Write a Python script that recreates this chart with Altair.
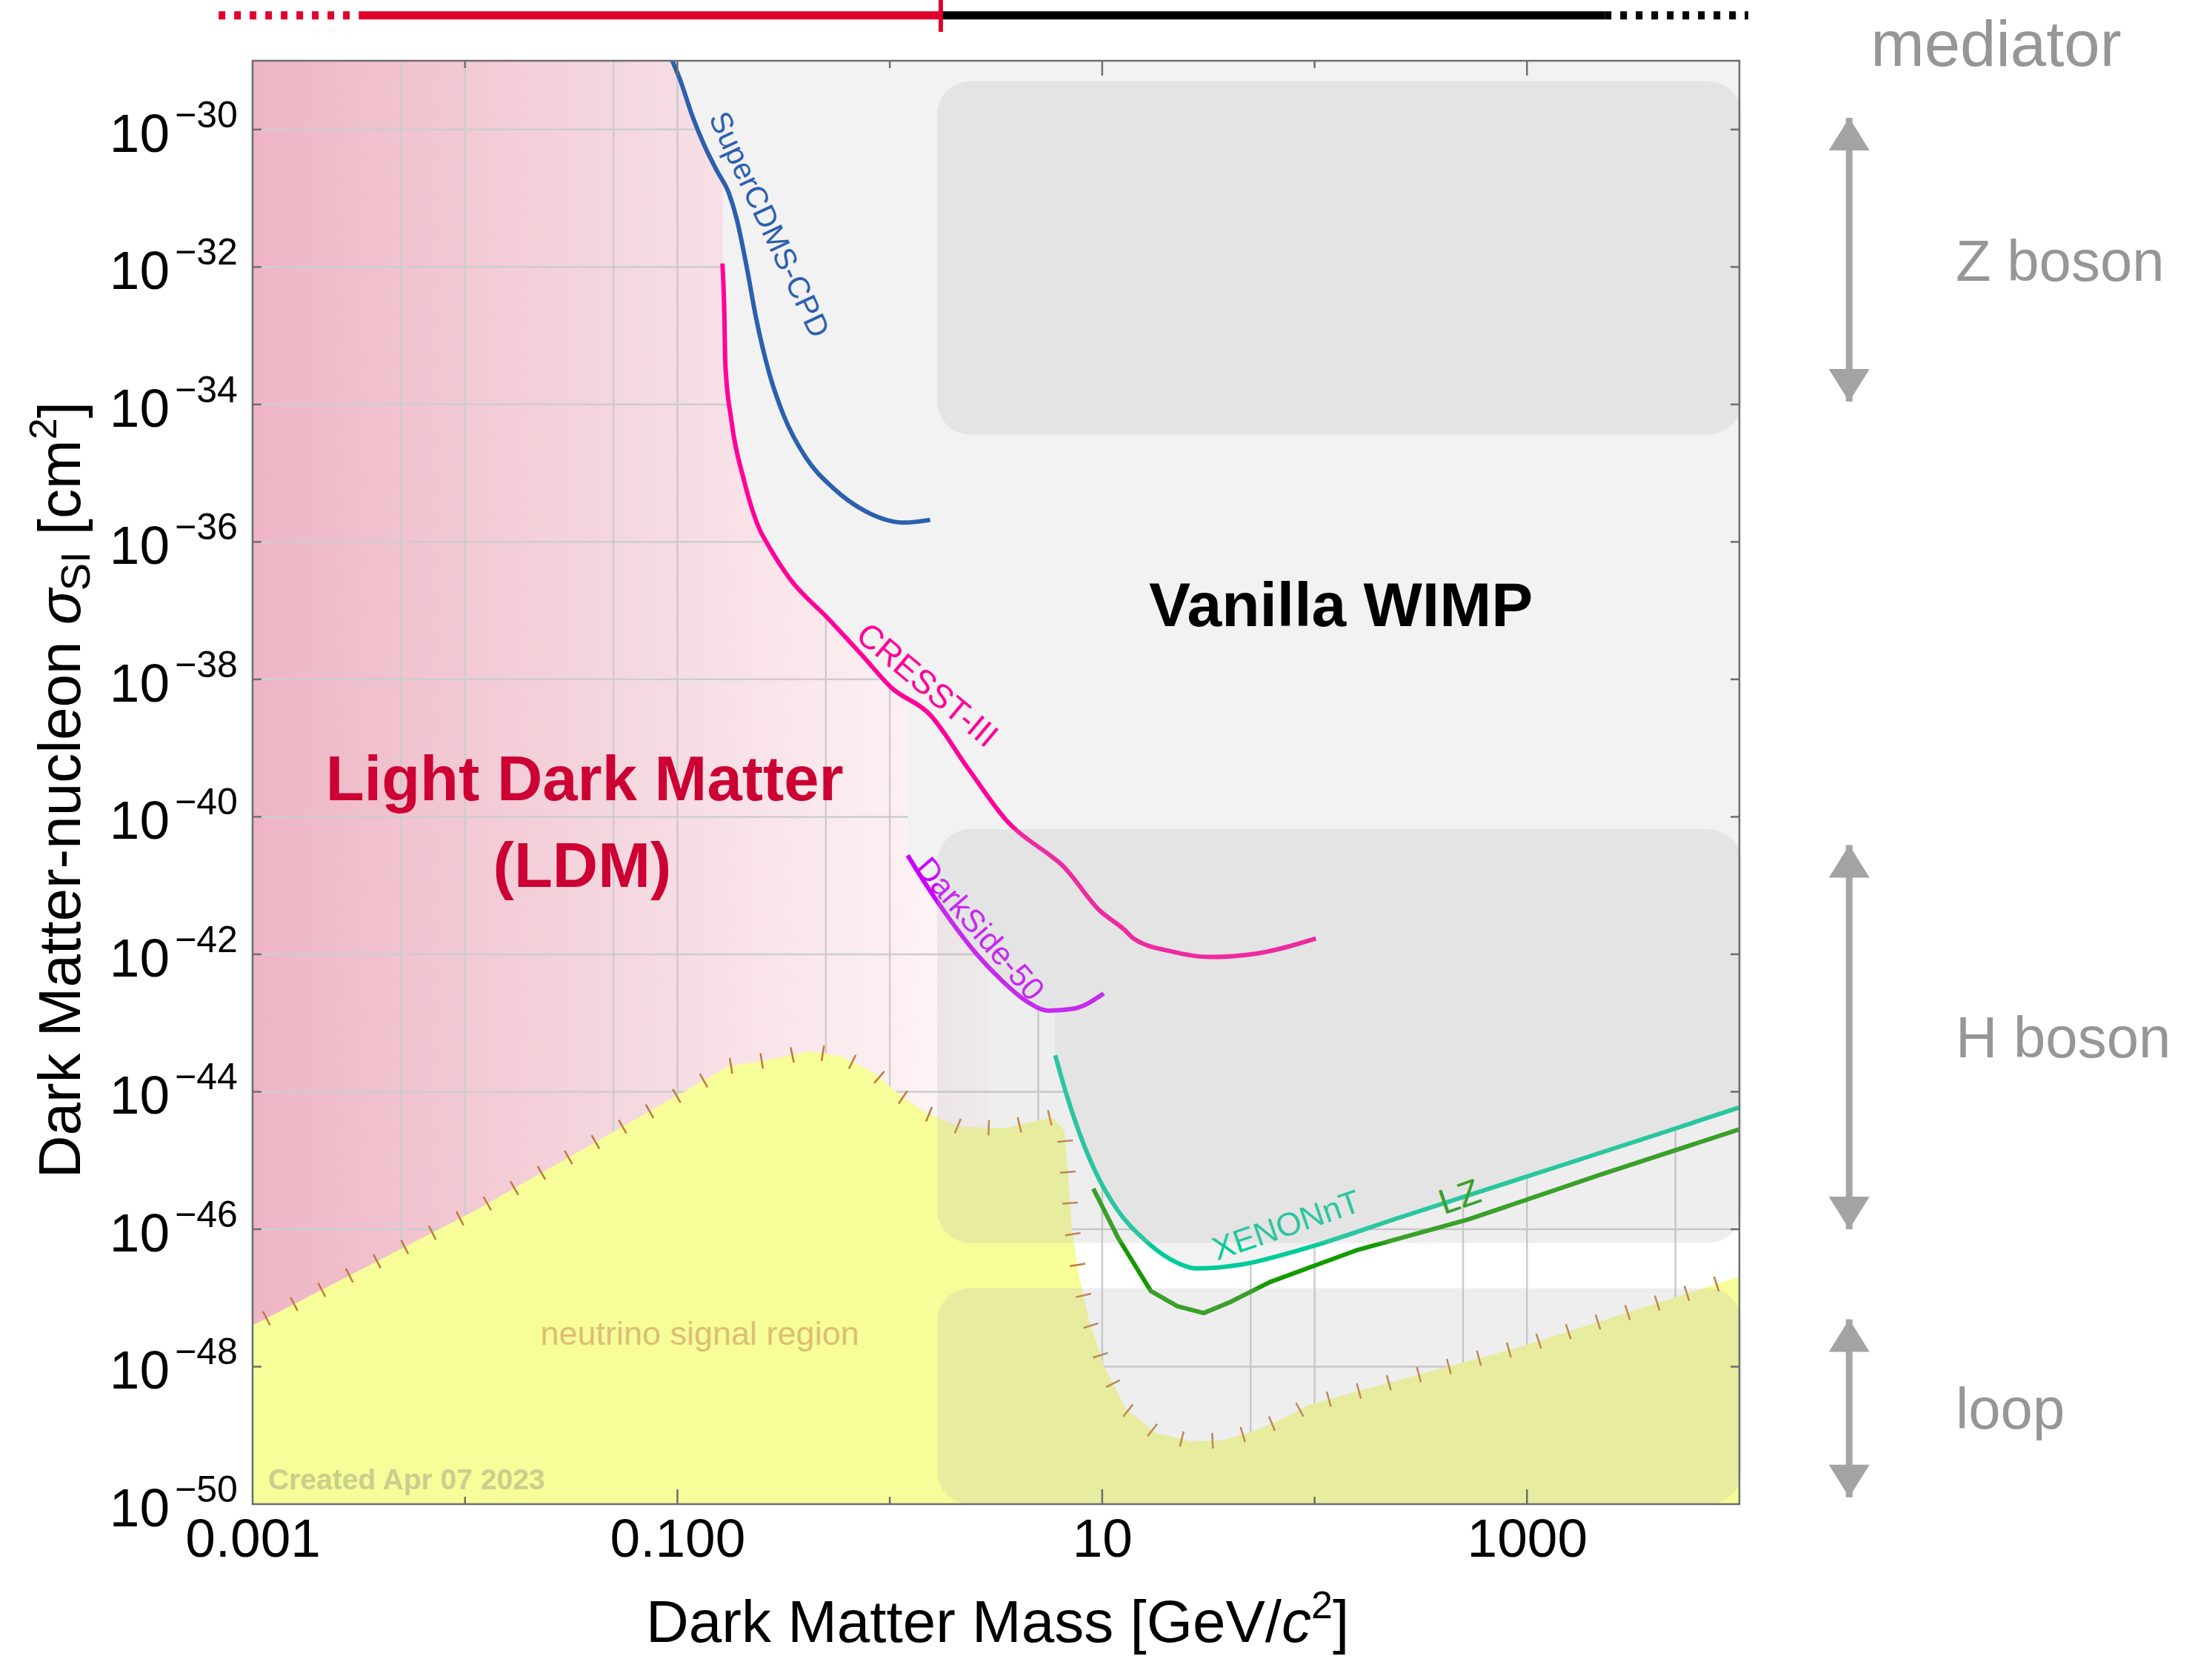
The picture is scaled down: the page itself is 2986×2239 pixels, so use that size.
import numpy as np
import pandas as pd
import altair as alt

FONT = "Liberation Sans"

# ---- frame, in log10 units ----
X_MIN, X_MAX = -3.0, 4.0        # dark matter mass [GeV/c^2]
Y_MIN, Y_MAX = -50.0, -29.0     # SI cross-section [cm^2]
PLOT_W, PLOT_H = 2007, 1948

# ---- experimental upper limits: log10(mass/GeV), log10(sigma_SI/cm^2) ----
supercdms_lx = [-1.024, -0.988, -0.930, -0.872, -0.814, -0.756, -0.721, -0.675, -0.629,
                -0.570, -0.501, -0.396, -0.269, -0.117, 0.068, 0.190]
supercdms_ly = [-29.00, -29.27, -29.80, -30.24, -30.60, -30.94, -31.30, -31.98, -32.75,
                -33.52, -34.15, -34.77, -35.21, -35.55, -35.72, -35.68]

cresst_lx = [-0.788, -0.780, -0.774, -0.745, -0.686, -0.617, -0.572, -0.472, -0.292, -0.133,
             0.007, 0.188, 0.367, 0.557, 0.767, 0.807, 0.987, 1.107, 1.147, 1.327, 1.507,
             1.727, 2.006]
cresst_ly = [-31.95, -32.55, -33.43, -34.25, -35.11, -35.79, -36.05, -36.53, -37.11, -37.64,
             -38.12, -38.51, -39.29, -40.08, -40.59, -40.69, -41.36, -41.65, -41.77, -41.96,
             -42.04, -41.99, -41.77]

darkside_lx = [0.084, 0.167, 0.287, 0.407, 0.527, 0.647, 0.747, 0.867, 1.007]
darkside_ly = [-40.56, -40.97, -41.51, -41.99, -42.38, -42.69, -42.82, -42.79, -42.57]

xenonnt_lx = [0.779, 0.826, 0.888, 0.966, 1.074, 1.198, 1.323, 1.448, 1.665, 1.944, 2.411,
              3.033, 3.654, 3.997]
xenonnt_ly = [-43.47, -43.98, -44.56, -45.15, -45.73, -46.15, -46.44, -46.57, -46.51, -46.29,
              -45.82, -45.20, -44.58, -44.23]

lz_lx = [0.958, 1.074, 1.229, 1.354, 1.478, 1.603, 1.789, 2.194, 2.722, 3.343, 3.997]
lz_ly = [-45.41, -46.12, -46.90, -47.12, -47.22, -47.06, -46.77, -46.31, -45.86, -45.21, -44.55]

# ---- neutrino fog upper edge ----
nu_lx = [-3.0, -1.959, -0.759, -0.543, -0.374, -0.232, -0.076, 0.048, 0.172, 0.328, 0.545,
         0.765, 0.822, 0.834, 0.857, 0.892, 0.938, 1.008, 1.113, 1.252, 1.423, 1.572, 1.712,
         1.836, 1.976, 2.971, 3.95, 4.0]
nu_ly = [-47.40, -45.74, -43.63, -43.52, -43.41, -43.48, -43.72, -44.05, -44.31, -44.51, -44.53,
         -44.37, -44.57, -45.00, -45.97, -46.69, -47.32, -47.99, -48.62, -48.96, -49.09, -49.07,
         -48.94, -48.78, -48.55, -47.71, -46.74, -46.69]

# ---- mediator bands (log10 mass, log10 sigma) ----
band_names = ["Z boson", "H boson", "loop"]
band_lx = [(0.223, 4.01), (0.223, 4.01), (0.223, 4.01)]
band_ly = [(-34.44, -29.30), (-46.20, -40.18), (-50.0, -46.86)]
arrow_lx = 4.517
arrow_ly = [(-29.83, -33.96), (-40.41, -46.00), (-47.31, -49.90)]
band_label_ly = [-32.20, -43.50, -48.90]

# ---- mediator mass bar along the top ----
bar_ly = -28.34
bar_red_dot = (-3.160, -2.499)
bar_red = (-2.499, 0.240)
bar_black = (0.240, 3.366)
bar_black_dot = (3.366, 4.042)

curve_names = ["SuperCDMS-CPD", "CRESST-III", "DarkSide-50", "XENONnT", "LZ"]
curve_colors = ["#2C60AF", "#FF0099", "#CC00FF", "#00CC99", "#159A00"]

# ---------------------------------------------------------------------------
xscale = alt.Scale(type="log", domain=[10.0 ** X_MIN, 10.0 ** X_MAX], nice=False)
yscale = alt.Scale(type="log", domain=[10.0 ** Y_MIN, 10.0 ** Y_MAX], nice=False)
x_axis = alt.Axis(
    values=[0.001, 0.1, 10, 1000],
    labelExpr="datum.value < 0.01 ? '0.001' : datum.value < 1 ? '0.100' : datum.value < 100 ? '10' : '1000'",
    domain=False, ticks=False, grid=False, tickSize=0, title=None,
    labelFont=FONT, labelFontSize=73, labelColor="black", labelPadding=12,
    labelFlush=False, labelOverlap=False, labelBound=False, labelLimit=600,
)


def X(field="mass"):
    return alt.X(f"{field}:Q", scale=xscale, axis=x_axis, title=None)


def Y(field="xsec"):
    return alt.Y(f"{field}:Q", scale=yscale, axis=None, title=None)


def pts(lx, ly):
    return pd.DataFrame({"mass": 10.0 ** np.asarray(lx, float),
                         "xsec": 10.0 ** np.asarray(ly, float)})


def text_layer(text, lx, ly, size, color="black", align="left", baseline="alphabetic",
               angle=0, dx=0, dy=0, weight="normal", style="normal"):
    df = pd.DataFrame({"mass": [10.0 ** lx], "xsec": [10.0 ** ly], "label": [text]})
    return alt.Chart(df).mark_text(
        font=FONT, fontSize=size, color=color, align=align, baseline=baseline,
        angle=angle, dx=dx, dy=dy, fontWeight=weight, fontStyle=style, limit=0,
    ).encode(x=X(), y=Y(), text="label:N")


def lower_envelope(pieces):
    """Join limit curves, each one taking over where the next begins."""
    ex, ey = [], []
    for k, (lx, ly) in enumerate(pieces):
        stop = pieces[k + 1][0][0] if k + 1 < len(pieces) else None
        for a, b in zip(lx, ly):
            if stop is None or a < stop:
                ex.append(a)
                ey.append(b)
        if stop is not None:
            ex.append(stop - 1e-4)
            ey.append(float(np.interp(stop, lx, ly)))
    return ex, ey


def edge_ticks(lx, ly, spacing=42.0):
    """Hatch ticks along an edge, perpendicular to it on screen."""
    px = PLOT_W / (X_MAX - X_MIN)
    py = PLOT_H / (Y_MAX - Y_MIN)
    sx = np.asarray(lx, float) * px
    sy = -np.asarray(ly, float) * py
    dx, dy = np.diff(sx), np.diff(sy)
    seg = np.hypot(dx, dy)
    cum = np.concatenate([[0.0], np.cumsum(seg)])
    s = np.arange(spacing * 0.5, cum[-1], spacing)
    tx, ty = np.interp(s, cum, sx), np.interp(s, cum, sy)
    k = np.clip(np.searchsorted(cum, s, side="right") - 1, 0, len(seg) - 1)
    ang = np.degrees(np.arctan2(dy, dx))[k] % 180.0
    return pd.DataFrame({"mass": 10.0 ** (tx / px), "xsec": 10.0 ** (-ty / py), "angle": ang})


layers = []

# light dark matter shading (fades toward the GeV scale)
ldm = pd.DataFrame({"mass": [10.0 ** X_MIN], "mass2": [10.0 ** 0.46],
                    "xsec": [10.0 ** Y_MIN], "xsec2": [10.0 ** Y_MAX]})
layers.append(alt.Chart(ldm).mark_rect(color={
    "gradient": "linear", "x1": 0, "x2": 1, "y1": 0, "y2": 0,
    "stops": [{"offset": 0.0, "color": "#EEB5C4"}, {"offset": 0.45, "color": "#F4D4DC"},
              {"offset": 0.87, "color": "#FCEFF2"}, {"offset": 1.0, "color": "#FFF9FA"}],
}).encode(x=X(), x2=alt.X2("mass2:Q"), y=Y(), y2=alt.Y2("xsec2:Q")))

# grid
grid_v = pd.DataFrame({"mass": [a * 10.0 ** d for d in range(-3, 4) for a in (1, 5)]})
grid_h = pd.DataFrame({"xsec": [10.0 ** e for e in range(-48, -29, 2)]})
layers.append(alt.Chart(grid_v).mark_rule(color="#CDCDCD", strokeWidth=2.5).encode(x=X()))
layers.append(alt.Chart(grid_h).mark_rule(color="#CDCDCD", strokeWidth=2.5).encode(y=Y()))

# excluded region above the combined limit
env_lx, env_ly = lower_envelope([(supercdms_lx, supercdms_ly), (cresst_lx, cresst_ly),
                                 (darkside_lx, darkside_ly), (xenonnt_lx, xenonnt_ly)])
excl = pts(env_lx, env_ly)
excl["top"] = 10.0 ** Y_MAX
layers.append(alt.Chart(excl).mark_area(color="#F2F2F2", clip=True).encode(
    x=X(), y=Y(), y2=alt.Y2("top:Q")))

# neutrino fog
fog = pts(nu_lx, nu_ly)
fog["floor"] = 10.0 ** Y_MIN
layers.append(alt.Chart(fog).mark_area(color="#F6FD99", clip=True).encode(
    x=X(), y=Y(), y2=alt.Y2("floor:Q")))
layers.append(alt.Chart(edge_ticks(nu_lx, nu_ly)).mark_point(
    shape="M0,-1L0,1", size=441, filled=False, stroke="#BF7B3A", strokeWidth=2.5,
    opacity=1, clip=True,
).encode(x=X(), y=Y(), angle=alt.Angle("angle:Q", scale=None)))
layers.append(text_layer("neutrino signal region", -0.895, -47.68, 45, color="#DCBF72",
                         align="center"))
layers.append(text_layer("Created Apr 07 2023", -2.927, -49.78, 39, color="#C9CF8C",
                         weight="bold"))

# limit curves
frames = []
for name, lx, ly in zip(curve_names,
                        [supercdms_lx, cresst_lx, darkside_lx, xenonnt_lx, lz_lx],
                        [supercdms_ly, cresst_ly, darkside_ly, xenonnt_ly, lz_ly]):
    df = pts(lx, ly)
    df["experiment"] = name
    df["i"] = np.arange(len(df))
    frames.append(df)
curves = pd.concat(frames, ignore_index=True)
curve_color = alt.Color("experiment:N", scale=alt.Scale(domain=curve_names, range=curve_colors),
                        legend=None)
smooth = curves[curves["experiment"] != "LZ"]
layers.append(alt.Chart(smooth).mark_line(strokeWidth=6, clip=True, interpolate="monotone",
                                          strokeJoin="round").encode(
    x=X(), y=Y(), detail="experiment:N", order="i:Q", color=curve_color))
layers.append(alt.Chart(curves[curves["experiment"] == "LZ"]).mark_line(
    strokeWidth=6, clip=True, strokeJoin="round").encode(
    x=X(), y=Y(), order="i:Q", color=curve_color))

# curve labels
layers.append(text_layer("SuperCDMS-CPD", -0.573, -31.39, 41, color=curve_colors[0],
                         align="center", baseline="middle", angle=65))
layers.append(text_layer("CRESST-III", 0.175, -38.09, 45, color=curve_colors[1],
                         align="center", baseline="middle", angle=40))
layers.append(text_layer("DarkSide-50", 0.421, -41.64, 43, color=curve_colors[2],
                         align="center", baseline="middle", angle=49))
layers.append(text_layer("XENONnT", 1.868, -45.96, 44, color=curve_colors[3],
                         align="center", baseline="middle", angle=341))
layers.append(text_layer("LZ", 2.685, -45.55, 48, color=curve_colors[4],
                         align="center", baseline="middle", angle=341))

# translucent mediator bands
bands = pd.DataFrame({
    "band": band_names,
    "mass": [10.0 ** a for a, _ in band_lx], "mass2": [10.0 ** b for _, b in band_lx],
    "xsec": [10.0 ** a for a, _ in band_ly], "xsec2": [10.0 ** b for _, b in band_ly],
})
layers.append(alt.Chart(bands).mark_rect(color="#B5B5B5", opacity=0.23, cornerRadius=45).encode(
    x=X(), x2=alt.X2("mass2:Q"), y=Y(), y2=alt.Y2("xsec2:Q")))

# region names
layers.append(text_layer("Vanilla WIMP", 2.124, -37.22, 84, align="center", weight="bold"))
layers.append(text_layer("Light Dark Matter", -1.437, -39.76, 85, color="#CC0033",
                         align="center", weight="bold"))
layers.append(text_layer("(LDM)", -1.448, -41.02, 85, color="#CC0033",
                         align="center", weight="bold"))

# inward frame ticks
tick_col = "#6E6E6E"
long_dec = [-1, 1, 3]
short_dec = [-2, 0, 2]
for decs, size in [(long_dec, 40), (short_dec, 20)]:
    tdf = pd.DataFrame({"mass": [10.0 ** d for d in decs for _ in (0, 1)],
                        "xsec": [10.0 ** e for _ in decs for e in (Y_MIN, Y_MAX)]})
    layers.append(alt.Chart(tdf).mark_tick(orient="vertical", size=size, thickness=2.5,
                                           color=tick_col, opacity=1, clip=True)
                  .encode(x=X(), y=Y()))
ytick_exp = list(range(-48, -29, 2))
tdf = pd.DataFrame({"mass": [10.0 ** m for _ in ytick_exp for m in (X_MIN, X_MAX)],
                    "xsec": [10.0 ** e for e in ytick_exp for _ in (0, 1)]})
layers.append(alt.Chart(tdf).mark_tick(orient="horizontal", size=24, thickness=2.5,
                                       color=tick_col, opacity=1, clip=True)
              .encode(x=X(), y=Y()))

# frame
frame = pd.DataFrame({"mass": [10.0 ** X_MIN], "mass2": [10.0 ** X_MAX],
                      "xsec": [10.0 ** Y_MIN], "xsec2": [10.0 ** Y_MAX]})
layers.append(alt.Chart(frame).mark_rect(fillOpacity=0, stroke=tick_col, strokeWidth=2.5).encode(
    x=X(), x2=alt.X2("mass2:Q"), y=Y(), y2=alt.Y2("xsec2:Q")))

# y tick labels as 10^n
ylab_exp = list(range(-30, -51, -2))
ylab = pd.DataFrame({"mass": 10.0 ** X_MIN, "xsec": [10.0 ** e for e in ylab_exp],
                     "base": "10", "expo": ["\u2212%d" % -e for e in ylab_exp]})
layers.append(alt.Chart(ylab).mark_text(font=FONT, fontSize=73, align="right",
                                        baseline="alphabetic", dx=-112, dy=30, color="black")
              .encode(x=X(), y=Y(), text="base:N"))
layers.append(alt.Chart(ylab).mark_text(font=FONT, fontSize=50, align="left",
                                        baseline="alphabetic", dx=-105, dy=-3, color="black")
              .encode(x=X(), y=Y(), text="expo:N"))

# axis titles
XT = (-1.148, -52.01)
layers.append(text_layer("Dark Matter Mass [GeV/", *XT, 80))
layers.append(text_layer("c", *XT, 80, dx=858, style="italic"))
layers.append(text_layer("2", *XT, 52, dx=898, dy=-32))
layers.append(text_layer("]", *XT, 80, dx=927))

YT = (-3.813, -45.26)
layers.append(text_layer("Dark Matter-nucleon", *YT, 80, angle=270))
layers.append(text_layer("\u03c3", *YT, 80, angle=270, dx=747, style="italic"))
layers.append(text_layer("SI", *YT, 56, angle=270, dx=793, dy=13))
layers.append(text_layer("[cm", *YT, 80, angle=270, dx=868))
layers.append(text_layer("2", *YT, 52, angle=270, dx=997, dy=-32))
layers.append(text_layer("]", *YT, 80, angle=270, dx=1026))


# mediator mass bar
def bar(seg, color, dash=None):
    df = pd.DataFrame({"mass": [10.0 ** seg[0]], "mass2": [10.0 ** seg[1]],
                       "xsec": [10.0 ** bar_ly]})
    kw = dict(color=color, strokeWidth=11, strokeCap="butt")
    if dash:
        kw["strokeDash"] = dash
    return alt.Chart(df).mark_rule(**kw).encode(x=X(), x2=alt.X2("mass2:Q"), y=Y())


layers.append(bar(bar_red_dot, "#E0002C", [9, 12]))
layers.append(bar(bar_red, "#E0002C"))
layers.append(bar(bar_black, "black"))
layers.append(bar(bar_black_dot, "black", [9, 12]))
split = pd.DataFrame({"mass": [10.0 ** bar_red[1]], "xsec": [10.0 ** -28.11],
                      "xsec2": [10.0 ** -28.58]})
layers.append(alt.Chart(split).mark_rule(color="#E0002C", strokeWidth=6).encode(
    x=X(), y=Y(), y2=alt.Y2("xsec2:Q")))

# right-hand mediator legend
layers.append(text_layer("mediator", 4.618, -29.08, 87, color="#969696"))
for name, ly in zip(band_names, band_label_ly):
    layers.append(text_layer(name, 5.018, ly, 78, color="#969696"))
arrows = pd.DataFrame({"mass": 10.0 ** arrow_lx,
                       "xsec": [10.0 ** t for t, _ in arrow_ly],
                       "xsec2": [10.0 ** b for _, b in arrow_ly]})
layers.append(alt.Chart(arrows).mark_rule(color="#A6A6A6", strokeWidth=9).encode(
    x=X(), y=Y(), y2=alt.Y2("xsec2:Q")))
layers.append(alt.Chart(arrows).mark_point(shape="M0,0L1,1.6L-1,1.6Z", size=3025, filled=True,
                                           color="#A3A3A3", opacity=1, strokeWidth=0)
              .encode(x=X(), y=Y()))
layers.append(alt.Chart(arrows).mark_point(shape="M0,0L1,-1.6L-1,-1.6Z", size=3025, filled=True,
                                           color="#A3A3A3", opacity=1, strokeWidth=0)
              .encode(x=X(), y=Y("xsec2")))

chart = alt.layer(*layers).properties(
    width=PLOT_W, height=PLOT_H,
    autosize=alt.AutoSizeParams(type="none"),
    padding={"left": 341, "top": 82, "right": 2986 - 341 - PLOT_W, "bottom": 2239 - 82 - PLOT_H},
    background="white",
).configure_view(stroke=None)

chart.save("out.html", embed_options={"renderer": "svg", "actions": False})
